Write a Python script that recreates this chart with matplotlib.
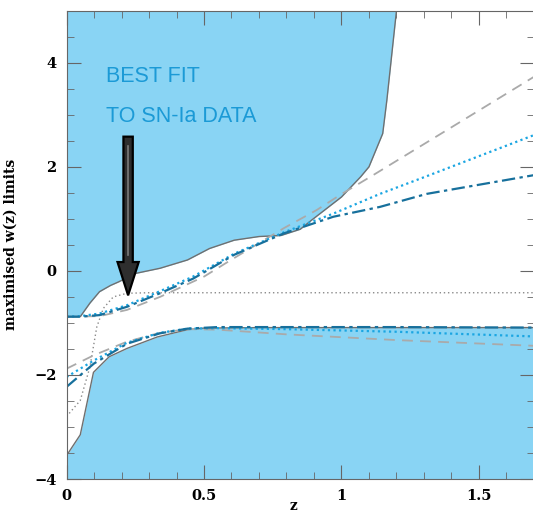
import numpy as np
import matplotlib.pyplot as plt
from matplotlib.ticker import MultipleLocator
from matplotlib.patches import FancyArrow

# Allowed region boundaries (upper band edge, lower band edge)
z_up = [0, 0.05, 0.085, 0.12, 0.16, 0.19, 0.25, 0.34, 0.44, 0.52, 0.61, 0.70, 0.78, 0.85, 0.89, 1.0, 1.07, 1.10, 1.15, 1.165, 1.20]
w_up = [-0.88, -0.88, -0.62, -0.40, -0.28, -0.21, -0.05, 0.05, 0.21, 0.43, 0.59, 0.66, 0.68, 0.80, 0.97, 1.42, 1.81, 2.0, 2.64, 3.28, 5.0]

z_lo = [0, 0.05, 0.098, 0.155, 0.22, 0.33, 0.44, 0.50, 0.70, 1.0, 1.7]
w_lo = [-3.55, -3.15, -1.95, -1.65, -1.49, -1.27, -1.13, -1.10, -1.09, -1.09, -1.09]

# Model curves, upper limits
z_hi = [0, 0.05, 0.12, 0.22, 0.34, 0.46, 0.61, 0.79, 0.97, 1.14, 1.31, 1.7]
dashdot_hi = [-0.88, -0.88, -0.85, -0.69, -0.43, -0.15, 0.31, 0.72, 1.04, 1.23, 1.48, 1.84]
dotted_hi = [-0.88, -0.87, -0.82, -0.66, -0.39, -0.11, 0.33, 0.74, 1.10, 1.48, 1.82, 2.61]
z_dash_hi = [0, 0.12, 0.22, 0.34, 0.50, 0.595, 0.79, 0.91, 0.995, 1.115, 1.4, 1.7]
dashed_hi = [-0.88, -0.87, -0.75, -0.50, -0.11, 0.20, 0.82, 1.17, 1.46, 1.84, 2.76, 3.73]

# Model curves, lower limits
z_low = [0, 0.1, 0.22, 0.34, 0.44, 0.55, 0.8, 1.2, 1.7]
dashdot_low = [-2.23, -1.78, -1.40, -1.20, -1.11, -1.08, -1.08, -1.08, -1.09]
dotted_low = [-2.04, -1.72, -1.38, -1.19, -1.11, -1.10, -1.12, -1.17, -1.26]
dashed_low = [-1.88, -1.62, -1.36, -1.19, -1.12, -1.13, -1.22, -1.33, -1.44]

# Thin grey dotted curve
z_gd = [0, 0.05, 0.085, 0.11, 0.134, 0.17, 0.22, 0.3, 1.7]
w_gd = [-2.8, -2.49, -1.85, -1.08, -0.72, -0.50, -0.43, -0.42, -0.42]

fill_col = '#89d4f4'
dark_blue = '#17709c'
light_blue = '#1ba6e2'

fig = plt.figure(figsize=(5.33, 5.16), dpi=100)
ax = fig.add_axes([0.1248, 0.0717, 0.877, 0.9075])

ax.fill_between(z_up, w_up, 5, color=fill_col, lw=0)
ax.fill_between(z_lo, -4, w_lo, color=fill_col, lw=0)
ax.plot(z_up, w_up, color='#6f6f6f', lw=1.0)
ax.plot(z_lo, w_lo, color='#6f6f6f', lw=1.0)

ax.plot(z_gd, w_gd, color='#8a8a8a', lw=1.0, ls=(0, (1, 2)))

ax.plot(z_dash_hi, dashed_hi, color='#aaaaaa', lw=1.3, ls=(0, (6, 4)))
ax.plot(z_low, dashed_low, color='#aaaaaa', lw=1.3, ls=(0, (6, 4)))
ax.plot(z_hi, dotted_hi, color=light_blue, lw=1.6, ls=(0, (1, 1.5)))
ax.plot(z_low, dotted_low, color=light_blue, lw=1.6, ls=(0, (1, 1.5)))
ax.plot(z_hi, dashdot_hi, color=dark_blue, lw=1.6, ls=(0, (6, 2, 1.5, 2)))
ax.plot(z_low, dashdot_low, color=dark_blue, lw=1.6, ls=(0, (6, 2, 1.5, 2)))

# annotation
ax.text(0.145, 3.74, 'BEST FIT', color='#1b9ad6', fontsize=15.5,
        family='Liberation Sans', va='center', ha='left')
ax.text(0.145, 2.96, 'TO SN-Ia DATA', color='#1b9ad6', fontsize=15.5,
        family='Liberation Sans', va='center', ha='left')
arr = FancyArrow(0.224, 2.58, 0, -3.05, width=0.034, head_width=0.077,
                 head_length=0.64, length_includes_head=True,
                 facecolor='#2e2e2e', edgecolor='black', lw=1.6, zorder=6)
ax.add_patch(arr)
ax.plot([0.224, 0.224], [2.4, 0.3], color='#7a7a7a', lw=1.2, zorder=7)

ax.set_xlim(0, 1.7)
ax.set_ylim(-4, 5)
ax.xaxis.set_major_locator(MultipleLocator(0.5))
ax.xaxis.set_minor_locator(MultipleLocator(0.1))
ax.yaxis.set_major_locator(MultipleLocator(2))
ax.yaxis.set_minor_locator(MultipleLocator(0.5))
ax.set_xticks([0, 0.5, 1, 1.5])
ax.set_xticklabels(['0', '0.5', '1', '1.5'])
ax.set_yticks([-4, -2, 0, 2, 4])
ax.set_yticklabels(['\u22124', '\u22122', '0', '2', '4'])
ax.tick_params(which='both', direction='in', top=True, right=True, color='#666666')
ax.tick_params(which='major', length=10, pad=7)
ax.tick_params(which='minor', length=5)
for lab in ax.get_xticklabels() + ax.get_yticklabels():
    lab.set_family('DejaVu Serif')
    lab.set_fontweight('bold')
    lab.set_fontsize(10.5)
for s in ax.spines.values():
    s.set_color('#666666')

ax.set_ylabel('maximised w(z) limits', family='DejaVu Serif', fontweight='bold', fontsize=10)
ax.yaxis.set_label_coords(-0.104, 0.5)
ax.set_xlabel('z', family='DejaVu Serif', fontweight='bold', fontsize=10)
ax.xaxis.set_label_coords(0.485, -0.042)

fig.savefig('out.png', dpi=100)
